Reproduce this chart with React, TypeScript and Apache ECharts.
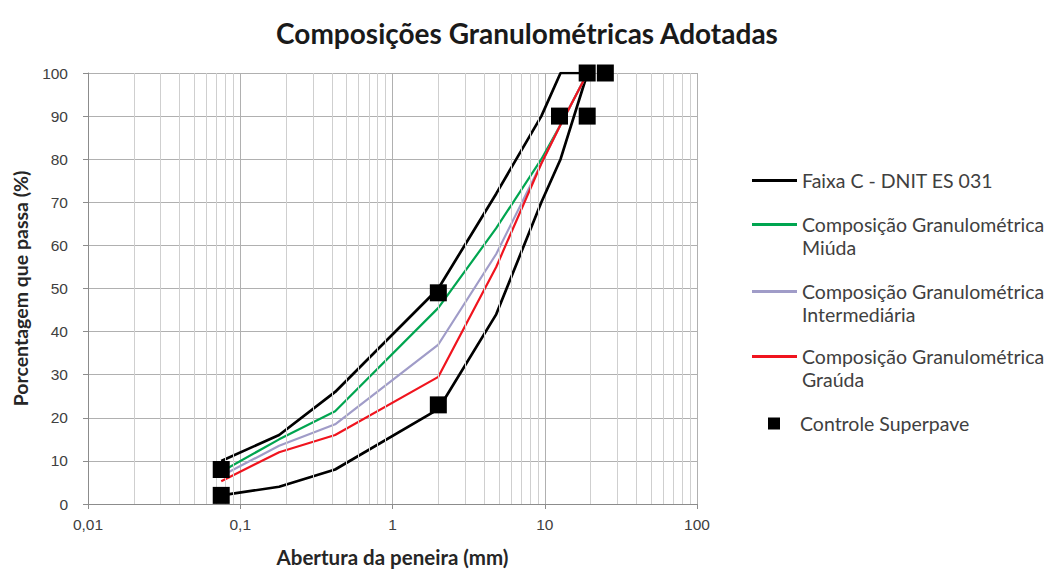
import React, { useEffect, useRef } from "react";
import * as echarts from "echarts";

// Sieve openings (mm)
const sieves = [19.1, 12.7, 9.5, 4.8, 2.0, 0.42, 0.18, 0.075];
// Faixa C - DNIT ES 031 limits (% passing)
const faixaMin = [100, 80, 70, 44, 22, 8, 4, 2];
const faixaMax = [100, 100, 90, 72, 50, 26, 16, 10];
// Adopted gradations (% passing)
const miuda = [100, 88, 80, 64, 45.5, 21.5, 15, 7.5];
const intermediaria = [100, 88, 79, 58, 37, 18.5, 13.5, 6.5];
const grauda = [100, 88, 79, 55, 29.5, 16, 12, 5.3];
// Superpave control points
const controlX = [0.075, 0.075, 2.0, 2.0, 12.5, 19, 19, 25];
const controlY = [2, 8, 23, 49, 90, 90, 100, 100];
// Minor log grid positions
const minorGrid = [
  0.02, 0.03, 0.04, 0.05, 0.06, 0.07, 0.08, 0.09,
  0.2, 0.3, 0.4, 0.5, 0.6, 0.7, 0.8, 0.9,
  2, 3, 4, 5, 6, 7, 8, 9,
  20, 30, 40, 50, 60, 70, 80, 90,
];

const NAME_FAIXA = "Faixa C - DNIT ES 031";
const NAME_MIUDA = "Composição Granulométrica Miúda";
const NAME_INTER = "Composição Granulométrica Intermediária";
const NAME_GRAUDA = "Composição Granulométrica Graúda";
const NAME_CTRL = "Controle Superpave";

const FONT = "Lato";

export default function App() {
  const ref = useRef<HTMLDivElement>(null);
  useEffect(() => {
    document.body.style.margin = "0";
    if (!ref.current) return;
    const chart = echarts.init(ref.current, undefined, { renderer: "svg" });

    const pair = (vals: number[]) => sieves.map((s, i) => [s, vals[i]]);
    const faixaData = [...pair(faixaMin).reverse(), ...pair(faixaMax)];

    const richText = {
      a: { fontFamily: FONT, fontSize: 19.5, lineHeight: 23, color: "#404040" },
      c: { fontFamily: FONT, fontSize: 19.5, lineHeight: 23, color: "#404040", padding: [0, 0, 0, 15] },
    };
    const legendBase = {
      orient: "vertical" as const,
      left: 752,
      padding: 0,
      itemWidth: 45,
      itemHeight: 3,
      icon: "rect",
      selectedMode: false,
      textStyle: { fontFamily: FONT, fontSize: 19.5, color: "#404040", rich: richText },
    };
    const twoLine = (a: string, b: string) => () => `{a| }\n{a|${a}}\n{a|${b}}`;

    chart.setOption({
      animation: false,
      backgroundColor: "#ffffff",
      title: {
        text: "Composições Granulométricas Adotadas",
        left: "center",
        top: 14,
        textStyle: { fontFamily: FONT, fontSize: 28, fontWeight: "bold", color: "#1a1a1a" },
      },
      legend: [
        { ...legendBase, data: [NAME_FAIXA], top: 170.5, formatter: () => `{a|${NAME_FAIXA}}` },
        { ...legendBase, data: [NAME_MIUDA], top: 191.5, formatter: twoLine("Composição Granulométrica", "Miúda") },
        { ...legendBase, data: [NAME_INTER], top: 258.5, formatter: twoLine("Composição Granulométrica", "Intermediária") },
        { ...legendBase, data: [NAME_GRAUDA], top: 323.5, formatter: twoLine("Composição Granulométrica", "Graúda") },
        {
          ...legendBase,
          data: [NAME_CTRL],
          top: 413.5,
          left: 768,
          itemWidth: 12,
          itemHeight: 12,
          formatter: () => `{c|${NAME_CTRL}}`,
        },
      ],
      grid: { left: 88, right: 357, top: 73, bottom: 66 },
      xAxis: {
        type: "log",
        logBase: 10,
        min: 0.01,
        max: 100,
        name: "Abertura da peneira (mm)",
        nameLocation: "middle",
        nameGap: 42,
        nameTextStyle: { fontFamily: FONT, fontSize: 20.5, fontWeight: "bold", color: "#262626" },
        axisLine: { lineStyle: { color: "#8c8c8c" } },
        axisTick: { show: true, length: 5, lineStyle: { color: "#8c8c8c" } },
        axisLabel: {
          fontFamily: "Liberation Sans",
          fontSize: 15.5,
          color: "#404040",
          margin: 12,
          formatter: (v: number) => String(Number(v.toPrecision(6))).replace(".", ","),
        },
        splitLine: { show: true, lineStyle: { color: "#b0b0b0", width: 1 } },
      },
      yAxis: {
        type: "value",
        min: 0,
        max: 100,
        interval: 10,
        name: "Porcentagem que passa (%)",
        nameLocation: "middle",
        nameGap: 58,
        nameTextStyle: { fontFamily: FONT, fontSize: 19.5, fontWeight: "bold", color: "#262626" },
        axisLine: { show: true, lineStyle: { color: "#8c8c8c" } },
        axisTick: { show: true, length: 5, lineStyle: { color: "#8c8c8c" } },
        axisLabel: { fontFamily: "Liberation Sans", fontSize: 15.5, color: "#404040", margin: 20 },
        splitLine: { show: true, lineStyle: { color: "#b0b0b0", width: 1 } },
      },
      series: [
        {
          name: "minorGrid",
          type: "line",
          data: [],
          silent: true,
          markLine: {
            silent: true,
            symbol: "none",
            label: { show: false },
            lineStyle: { color: "#cfcfcf", width: 1, type: "solid" },
            data: minorGrid.map((v) => ({ xAxis: v })),
          },
        },
        {
          name: NAME_FAIXA,
          type: "line",
          data: faixaData,
          symbol: "none",
          lineStyle: { color: "#000000", width: 2.7 },
          itemStyle: { color: "#000000" },
          z: 3,
        },
        {
          name: NAME_MIUDA,
          type: "line",
          data: pair(miuda),
          symbol: "none",
          lineStyle: { color: "#00a550", width: 2.2 },
          itemStyle: { color: "#00a550" },
          z: 4,
        },
        {
          name: NAME_INTER,
          type: "line",
          data: pair(intermediaria),
          symbol: "none",
          lineStyle: { color: "#a09cc8", width: 2.2 },
          itemStyle: { color: "#a09cc8" },
          z: 4,
        },
        {
          name: NAME_GRAUDA,
          type: "line",
          data: pair(grauda),
          symbol: "none",
          lineStyle: { color: "#f0141e", width: 2.2 },
          itemStyle: { color: "#f0141e" },
          z: 4,
        },
        {
          name: NAME_CTRL,
          type: "scatter",
          data: controlX.map((x, i) => [x, controlY[i]]),
          symbol: "rect",
          symbolSize: 17,
          itemStyle: { color: "#000000", opacity: 1 },
          z: 5,
        },
      ],
    });
    return () => chart.dispose();
  }, []);
  return <div ref={ref} style={{ width: 1054, height: 572 }} />;
}
